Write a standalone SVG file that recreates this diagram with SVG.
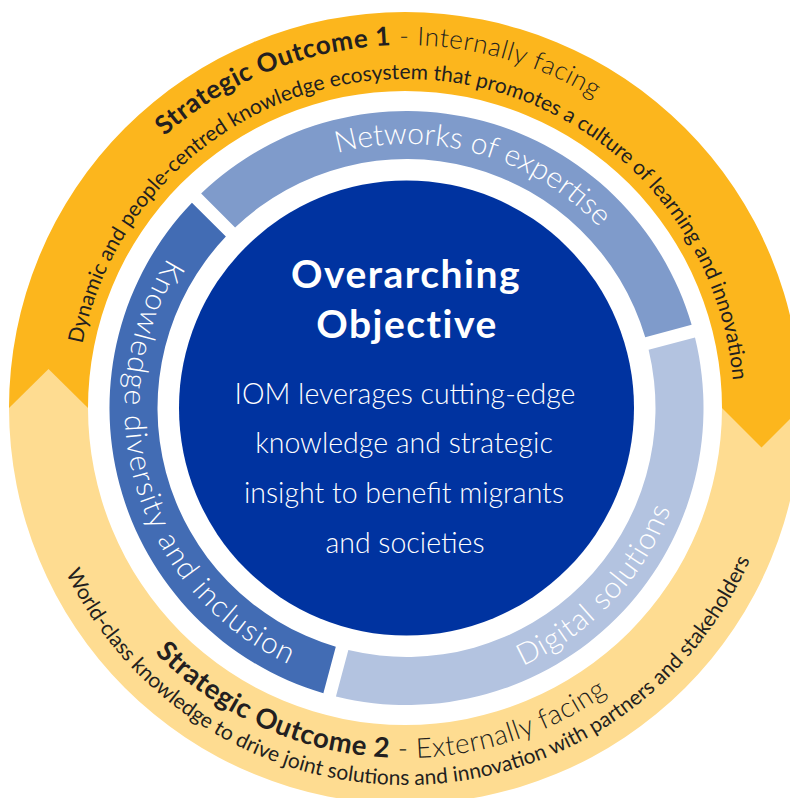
<svg xmlns="http://www.w3.org/2000/svg" xmlns:xlink="http://www.w3.org/1999/xlink" width="790" height="798" viewBox="0 0 790 798">
  <style>
    .orange { fill: #FCB61D; }
    .yellow { fill: #FEDC91; }
    .core { fill: #0033A0; }
    .seg-knowledge { fill: #426CB4; }
    .seg-networks { fill: #7F9BCB; }
    .seg-digital { fill: #B3C3E0; }
    .dark { fill: #231F20; font-family: Lato, "Open Sans", "Liberation Sans", sans-serif; }
    .white { fill: #FFFFFF; font-family: Lato, "Open Sans", "Liberation Sans", sans-serif; }
    .bold { font-weight: 700; }
    .light { font-weight: 300; }
    .head { font-size: 26px; letter-spacing: 0.6px; }
    .head2 { font-size: 27.5px; letter-spacing: 0.6px; }
    .sub1 { font-size: 21px; font-weight: 400; }
    .sub2 { font-size: 21px; font-weight: 400; }
    .ring { font-size: 30px; font-weight: 300; }
  </style>
  <defs>
    <path id="arcHead1" d="M 43.38 376.36 A 363 363 0 0 1 755.63 314.05"/>
    <path id="arcSub1" d="M 79.36 361.07 A 329 329 0 0 1 733.84 397.67"/>
    <path id="arcHead2" d="M 56.28 437.90 A 350 350 0 0 0 742.91 499.18"/>
    <path id="arcSub2" d="M 35.05 480.58 A 377 377 0 0 0 777.46 466.33"/>
    <path id="arcNetworks" d="M 222.45 218.74 A 264 264 0 0 1 662.43 343.24"/>
    <path id="arcKnowledge" d="M 201.27 214.60 A 282 282 0 0 0 341.63 682.44"/>
    <path id="arcDigital" d="M 390.21 690.53 A 283 283 0 0 0 687.57 374.98"/>
  </defs>

  <!-- Outer cycle: two chevron bands chasing each other -->
  <g id="outcome1">
    <path class="orange" d="M 9 408 A 396 396 0 0 1 801 408 L 722 408 A 317 317 0 0 0 88 408 Z"/>
  </g>
  <g id="outcome2">
    <path class="yellow" d="M 9 408 A 396 396 0 0 0 801 408 L 722 408 A 317 317 0 0 1 88 408 Z"/>
    <polygon class="yellow" points="9,408 48.5,369 88,408"/>
  </g>
  <g id="outcome1-head">
    <polygon class="orange" points="722,408 761.5,447.5 801,408"/>
    <text class="dark head"><textPath xlink:href="#arcHead1" href="#arcHead1" startOffset="50%" text-anchor="middle"><tspan class="bold">Strategic Outcome 1</tspan><tspan class="light"> - Internally facing</tspan></textPath></text>
    <text class="dark sub1"><textPath xlink:href="#arcSub1" href="#arcSub1" startOffset="50%" text-anchor="middle">Dynamic and people-centred knowledge ecosystem that promotes a culture of learning and innovation</textPath></text>
  </g>
  <g id="outcome2-text">
    <text class="dark head2"><textPath xlink:href="#arcHead2" href="#arcHead2" startOffset="50%" text-anchor="middle"><tspan class="bold">Strategic Outcome 2</tspan><tspan class="light"> - Externally facing</tspan></textPath></text>
    <text class="dark sub2"><textPath xlink:href="#arcSub2" href="#arcSub2" startOffset="50%" text-anchor="middle">World-class knowledge to drive joint solutions and innovation with partners and stakeholders</textPath></text>
  </g>

  <!-- Middle ring: three enablers -->
  <g id="networks">
    <path class="seg-networks" d="M 201.13 193.44 A 297 297 0 0 1 691.63 324.87 L 645.25 337.30 A 249 249 0 0 0 235.09 227.39 Z"/>
    <text class="white ring"><textPath xlink:href="#arcNetworks" href="#arcNetworks" startOffset="50%" text-anchor="middle">Networks of expertise</textPath></text>
  </g>
  <g id="digital">
    <path class="seg-digital" d="M 695.00 337.43 A 297 297 0 0 1 335.93 696.50 L 348.36 650.12 A 249 249 0 0 0 648.62 349.86 Z"/>
    <text class="white ring" letter-spacing="0.9"><textPath xlink:href="#arcDigital" href="#arcDigital" startOffset="50%" text-anchor="middle">Digital solutions</textPath></text>
  </g>
  <g id="knowledge">
    <path class="seg-knowledge" d="M 323.37 693.13 A 297 297 0 0 1 191.94 202.63 L 225.89 236.59 A 249 249 0 0 0 335.80 646.75 Z"/>
    <text class="white ring" letter-spacing="1.3"><textPath xlink:href="#arcKnowledge" href="#arcKnowledge" startOffset="50%" text-anchor="middle">Knowledge diversity and inclusion</textPath></text>
  </g>

  <!-- Core objective -->
  <g id="objective">
    <circle class="core" cx="406.5" cy="408" r="227.5"/>
    <g class="white bold" font-size="39" letter-spacing="1.5" text-anchor="middle">
      <text x="406" y="288">Overarching</text>
      <text x="407" y="338">Objective</text>
    </g>
    <g class="white light" font-size="28.5" text-anchor="middle">
      <text x="405" y="404">IOM leverages cutting-edge</text>
      <text x="404" y="453">knowledge and strategic</text>
      <text x="404" y="503">insight to benefit migrants</text>
      <text x="405" y="553">and societies</text>
    </g>
  </g>

  <g id="connectors"/>
</svg>
